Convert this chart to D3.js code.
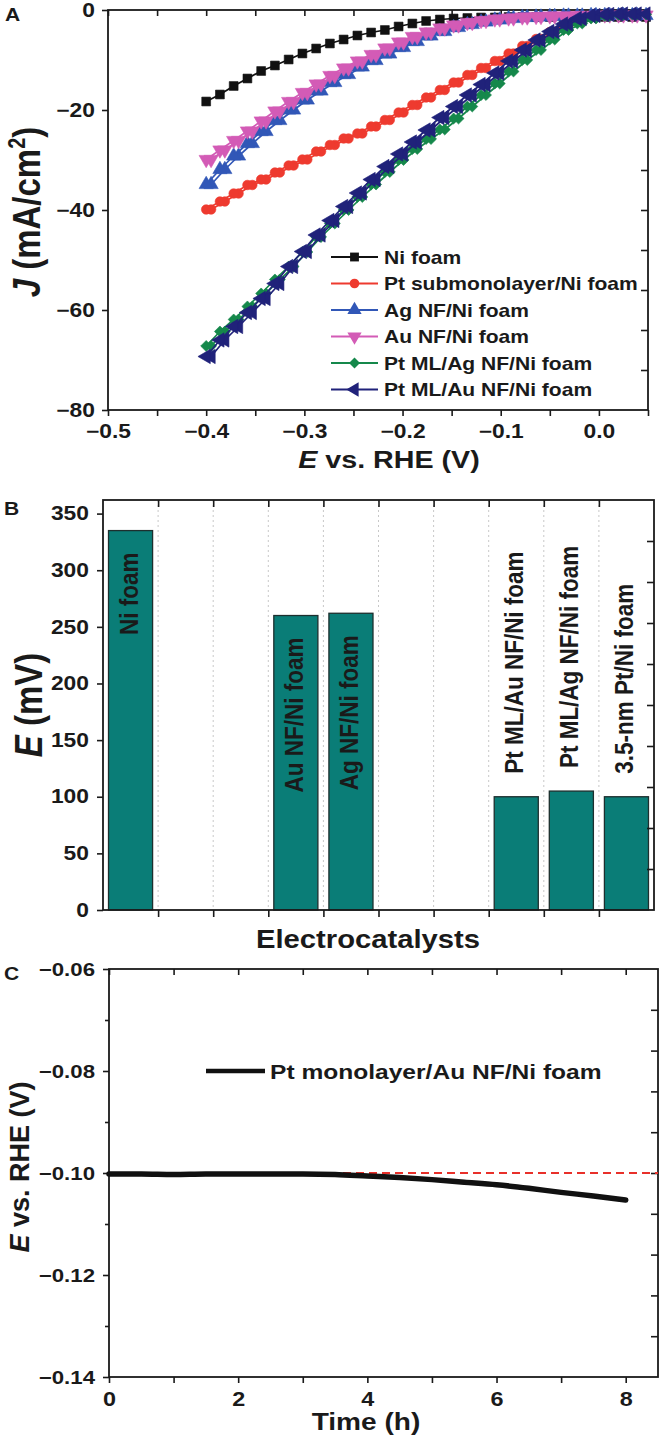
<!DOCTYPE html>
<html><head><meta charset="utf-8">
<script src="https://cdn.jsdelivr.net/npm/d3@7"></script>
<style>
body{margin:0;background:#fff;}
svg text{font-family:"Liberation Sans",Arial,sans-serif;font-weight:bold;fill:#1a1a1a;}
</style></head><body>
<svg id="c" width="660" height="1442"></svg>
<script>
// ---------------- DATA ----------------
// Panel A: polarization curves (first scan potentials; second scan markers sit slightly to the right)
const potentialA = [-0.400,-0.386,-0.372,-0.358,-0.344,-0.330,-0.316,-0.302,-0.288,-0.274,-0.260,-0.246,-0.232,-0.218,-0.204,-0.190,-0.176,-0.162,-0.148,-0.134,-0.120,-0.106,-0.092,-0.078,-0.064,-0.050,-0.036,-0.022,-0.008,0.006,0.020,0.034,0.048];
const potentialA2 = [-0.395,-0.381,-0.367,-0.353,-0.339,-0.325,-0.311,-0.297,-0.283,-0.269,-0.255,-0.241,-0.227,-0.213,-0.199,-0.185,-0.171,-0.157,-0.143,-0.129,-0.115,-0.101,-0.087,-0.073,-0.059,-0.045,-0.031,-0.017,-0.003,0.011,0.025,0.039];
const seriesNamesA = ["Ni foam","Pt submonolayer/Ni foam","Ag NF/Ni foam","Au NF/Ni foam","Pt ML/Ag NF/Ni foam","Pt ML/Au NF/Ni foam"];
const niFoam = [-18.3,-16.9,-15.2,-13.7,-12.2,-11.1,-9.9,-8.7,-7.7,-6.7,-5.9,-5.1,-4.5,-4.0,-3.3,-2.7,-2.2,-1.9,-1.7,-1.6,-1.5,-1.5,-1.4,-1.4,-1.4,-1.4,-1.4,-1.4,-1.4,-1.4,-1.4,-1.4,-1.4];
const ptSubNi = [-39.9,-38.3,-36.7,-35.0,-33.9,-32.5,-31.1,-29.9,-28.3,-27.0,-25.7,-24.7,-23.3,-22.0,-20.5,-19.0,-17.5,-16.0,-14.5,-13.0,-11.6,-10.2,-8.7,-7.2,-5.8,-4.4,-3.0,-1.9,-1.2,-1.0,-1.0,-1.0,-1.0];
const agNfNi = [-34.9,-31.9,-29.2,-26.7,-24.3,-22.1,-20.0,-18.0,-16.2,-14.5,-12.9,-11.4,-10.1,-8.8,-7.5,-6.3,-5.2,-4.3,-3.5,-2.9,-2.4,-2.0,-1.7,-1.5,-1.4,-1.3,-1.2,-1.2,-1.1,-1.1,-1.1,-1.1,-1.1];
const auNfNi = [-29.9,-28.0,-26.1,-24.2,-22.2,-20.2,-18.3,-16.5,-14.8,-13.1,-11.6,-10.2,-8.9,-7.6,-6.4,-5.3,-4.4,-3.6,-3.0,-2.5,-2.1,-1.8,-1.6,-1.4,-1.3,-1.2,-1.2,-1.1,-1.1,-1.0,-1.0,-1.0,-1.0];
const ptMlAgNi = [-67.2,-64.3,-61.9,-59.3,-56.7,-53.9,-51.3,-48.4,-45.4,-42.7,-40.0,-37.4,-34.9,-32.4,-30.0,-27.8,-25.8,-23.9,-21.7,-19.3,-17.0,-14.7,-12.3,-10.0,-8.0,-5.9,-4.0,-2.7,-1.7,-1.2,-1.0,-0.9,-0.9];
const ptMlAuNi = [-69.3,-66.0,-63.3,-60.5,-57.7,-54.7,-51.3,-48.3,-45.0,-42.1,-39.3,-36.6,-33.9,-31.3,-28.8,-26.4,-24.0,-21.5,-19.3,-17.0,-14.9,-12.6,-10.2,-8.0,-6.0,-4.3,-2.8,-1.7,-1.1,-0.9,-0.8,-0.8,-0.8];
const secondScanA = [false,true,true,true,true,true];
const colorsA = ["#111111","#ee3a2f","#3157b7","#d35bb6","#15884b","#20227a"];
const xTicksA = [-0.5,-0.4,-0.3,-0.2,-0.1,0.0];
const xMinorA = [-0.45,-0.35,-0.25,-0.15,-0.05,0.05];
const yTicksA = [0,-20,-40,-60,-80];

// Panel B: overpotential bars
const barCategories = ["Ni foam","Au NF/Ni foam","Ag NF/Ni foam","Pt ML/Au NF/Ni foam","Pt ML/Ag NF/Ni foam","3.5-nm Pt/Ni foam"];
const barSlots = [1,4,5,8,9,10];
const barValues = [335,260,262,100,105,100];
const yTicksB = [0,50,100,150,200,250,300,350];
const slotEdgesB = [1.5,2.5,3.5,4.5,5.5,6.5,7.5,8.5,9.5];

// Panel C: stability
const timeC = [0,0.5,1,1.5,2,2.5,3,3.5,4,4.5,5,5.5,6,6.5,7,7.5,8];
const potentialC = [-0.1002,-0.1002,-0.1003,-0.1002,-0.1002,-0.1002,-0.1002,-0.1003,-0.1006,-0.1009,-0.1013,-0.1018,-0.1023,-0.1030,-0.1038,-0.1045,-0.1053];
const refLevelC = -0.10;
const xTicksC = [0,2,4,6,8];
const xMinorC = [1,3,5,7];
const yTicksC = [-0.06,-0.08,-0.10,-0.12,-0.14];
const yMinorC = [-0.07,-0.09,-0.11,-0.13];
const rightDivs = [1,2,3,4,5,6,7,8,9];

// ---------------- DRAW ----------------
const svg = d3.select("#c");
const SX = 1.17; // horizontal glyph stretch seen in the figure

function styleAxis(fs){
  return g => {
    g.select(".domain").remove();
    g.selectAll("line").attr("stroke","#1a1a1a").attr("stroke-width",1.6);
    g.selectAll(".tick text").each(function(){
      const t = d3.select(this);
      const x = +t.attr("x")||0, y = +t.attr("y")||0;
      t.attr("x",null).attr("y",null).attr("font-size",fs).attr("fill","#1a1a1a")
       .attr("transform",`translate(${x},${y}) scale(${SX},1)`);
    });
  };
}
function label(x,y,size,rot,anchor,sx){
  return svg.append("text").attr("font-size",size).attr("text-anchor",anchor||"start")
    .attr("transform",`translate(${x},${y}) scale(${sx||SX},1) rotate(${rot||0})`);
}
function framePanel(L,R,T,B){
  svg.append("rect").attr("x",L).attr("y",T).attr("width",R-L).attr("height",B-T)
    .attr("fill","none").attr("stroke","#1a1a1a").attr("stroke-width",1.8);
  const r = d3.scaleLinear().domain([0,10]).range([B,T]);
  svg.append("g").attr("transform",`translate(${R},0)`)
    .call(d3.axisLeft(r).tickValues(rightDivs).tickSize(7).tickFormat(""))
    .call(styleAxis(0));
}

// ===== Panel A =====
{
  const L=108,R=648,T=10,B=410;
  const x = d3.scaleLinear().domain([-0.5,0.05]).range([L,R]);
  const y = d3.scaleLinear().domain([-80,0]).range([B,T]);
  svg.append("g").attr("transform",`translate(0,${B})`)
    .call(d3.axisBottom(x).tickValues(xTicksA).tickSize(6).tickPadding(8).tickFormat(d3.format(".1f"))).call(styleAxis(19.5));
  svg.append("g").attr("transform",`translate(0,${B})`)
    .call(d3.axisBottom(x).tickValues(xMinorA).tickSize(6).tickFormat("")).call(styleAxis(0));
  svg.append("g").attr("transform",`translate(0,${T})`)
    .call(d3.axisBottom(x).tickValues(xTicksA.concat(xMinorA)).tickSize(6).tickFormat("")).call(styleAxis(0));
  svg.append("g").attr("transform",`translate(${L},0)`)
    .call(d3.axisLeft(y).tickValues(yTicksA).tickSize(6).tickPadding(7).tickFormat(d3.format("d"))).call(styleAxis(19.5));
  framePanel(L,R,T,B);

  const all = [niFoam,ptSubNi,agNfNi,auNfNi,ptMlAgNi,ptMlAuNi];
  const symbols = [
    {t:d3.symbolSquare,s:78,r:0},
    {t:d3.symbolCircle,s:72,r:0},
    {t:d3.symbolTriangle,s:88,r:0},
    {t:d3.symbolTriangle,s:88,r:180},
    {t:d3.symbolDiamond2,s:78,r:0},
    {t:d3.symbolTriangle,s:88,r:-90}
  ];
  const line = d3.line().x(d=>x(d[0])).y(d=>y(d[1]));
  const drawScan = (pts,k) => {
    const g = svg.append("g");
    g.append("path").datum(pts).attr("d",line).attr("fill","none")
      .attr("stroke",colorsA[k]).attr("stroke-width",1.7);
    g.selectAll("path.m").data(pts).enter().append("path").attr("class","m")
      .attr("d",d3.symbol(symbols[k].t,symbols[k].s))
      .attr("transform",d=>`translate(${x(d[0])},${y(d[1])}) rotate(${symbols[k].r})`)
      .attr("fill",colorsA[k]).attr("stroke",colorsA[k]).attr("stroke-width",0.6);
  };
  all.forEach((vals,k)=>{
    if (secondScanA[k]) drawScan(potentialA2.map((e,i)=>[e,vals[i]]),k);
    drawScan(potentialA.map((e,i)=>[e,vals[i]]),k);
  });
  // legend
  seriesNamesA.forEach((n,k)=>{
    const yy = 257 + k*26.5;
    svg.append("line").attr("x1",331).attr("x2",378).attr("y1",yy).attr("y2",yy)
      .attr("stroke",colorsA[k]).attr("stroke-width",1.8);
    svg.append("path").attr("d",d3.symbol(symbols[k].t,symbols[k].s))
      .attr("transform",`translate(354.5,${yy}) rotate(${symbols[k].r})`).attr("fill",colorsA[k]);
    label(384,yy+6.5,18).text(n);
  });
  label(5,21,18).text("A");
  const xt = label(389,468,24.5,0,"middle");
  xt.append("tspan").attr("font-style","italic").text("E");
  xt.append("tspan").text(" vs. RHE (V)");
  const yt = label(40,212,33,-90,"middle");
  yt.append("tspan").attr("font-style","italic").text("J");
  yt.append("tspan").text(" (mA/cm");
  yt.append("tspan").attr("font-size",20).attr("dy",-13).text("2");
  yt.append("tspan").attr("dy",13).text(")");
}

// ===== Panel B =====
{
  const L=103,R=654,T=500,B=910;
  const x = d3.scaleLinear().domain([0.5,10.5]).range([L,R]);
  const y = d3.scaleLinear().domain([0,362]).range([B,T]);
  const slotW = x(2)-x(1);
  svg.append("g").selectAll("line").data(slotEdgesB).enter().append("line")
    .attr("x1",d=>x(d)).attr("x2",d=>x(d)).attr("y1",T).attr("y2",B)
    .attr("stroke","#c8c8c8").attr("stroke-width",1).attr("stroke-dasharray","2,3");
  svg.append("g").attr("transform",`translate(0,${B})`)
    .call(d3.axisBottom(x).tickValues(slotEdgesB).tickSize(7).tickFormat("")).call(styleAxis(0));
  svg.append("g").attr("transform",`translate(0,${T})`)
    .call(d3.axisBottom(x).tickValues(slotEdgesB).tickSize(7).tickFormat("")).call(styleAxis(0));
  svg.append("g").attr("transform",`translate(${L},0)`)
    .call(d3.axisLeft(y).tickValues(yTicksB).tickSize(6).tickPadding(8).tickFormat(d3.format("d"))).call(styleAxis(19.5));
  const bw = slotW*0.8;
  svg.append("g").selectAll("rect").data(barValues).enter().append("rect")
    .attr("x",(d,i)=>x(barSlots[i])-bw/2).attr("width",bw)
    .attr("y",d=>y(d)).attr("height",d=>B-y(d))
    .attr("fill","#0a7d77").attr("stroke","#1d2f2e").attr("stroke-width",1.3);
  framePanel(L,R,T,B);
  barValues.forEach((v,i)=>{
    const cx = x(barSlots[i]) + 7;
    const top = y(v);
    const inside = v > 200;
    label(cx, inside ? top+22 : top-23, 22.5, -90, inside ? "end" : "start").text(barCategories[i]);
  });
  label(4,515,18).text("B");
  label(368,948,25,0,"middle").text("Electrocatalysts");
  const yt = label(42,705,33,-90,"middle");
  yt.append("tspan").attr("font-style","italic").text("E");
  yt.append("tspan").text(" (mV)");
}

// ===== Panel C =====
{
  const L=109,R=658,T=969,B=1377;
  const x = d3.scaleLinear().domain([0,8.5]).range([L,R]);
  const y = d3.scaleLinear().domain([-0.14,-0.06]).range([B,T]);
  svg.append("g").attr("transform",`translate(0,${B})`)
    .call(d3.axisBottom(x).tickValues(xTicksC).tickSize(6).tickPadding(9).tickFormat(d3.format("d"))).call(styleAxis(20));
  svg.append("g").attr("transform",`translate(0,${B})`)
    .call(d3.axisBottom(x).tickValues(xMinorC).tickSize(6).tickFormat("")).call(styleAxis(0));
  svg.append("g").attr("transform",`translate(0,${T})`)
    .call(d3.axisBottom(x).tickValues(xTicksC.concat(xMinorC)).tickSize(6).tickFormat("")).call(styleAxis(0));
  svg.append("g").attr("transform",`translate(${L},0)`)
    .call(d3.axisLeft(y).tickValues(yTicksC).tickSize(6).tickPadding(8).tickFormat(d3.format(".2f"))).call(styleAxis(19));
  svg.append("g").attr("transform",`translate(${L},0)`)
    .call(d3.axisLeft(y).tickValues(yMinorC).tickSize(4).tickFormat("")).call(styleAxis(0));
  framePanel(L,R,T,B);
  svg.append("line").attr("x1",L).attr("x2",R).attr("y1",y(refLevelC)).attr("y2",y(refLevelC))
    .attr("stroke","#e8302a").attr("stroke-width",2).attr("stroke-dasharray","8,5");
  const line = d3.line().curve(d3.curveMonotoneX).x((d,i)=>x(timeC[i])).y(d=>y(d));
  svg.append("path").datum(potentialC).attr("d",line).attr("fill","none")
    .attr("stroke","#111").attr("stroke-width",5.5).attr("stroke-linecap","round");
  svg.append("line").attr("x1",206).attr("x2",265).attr("y1",1071).attr("y2",1071)
    .attr("stroke","#111").attr("stroke-width",4.5);
  label(270,1078.5,21).text("Pt monolayer/Au NF/Ni foam");
  label(4,980,18).text("C");
  label(366,1430,24,0,"middle").text("Time (h)");
  const yt = label(29,1167,27,-90,"middle",1);
  yt.append("tspan").attr("font-style","italic").text("E");
  yt.append("tspan").text(" vs. RHE (V)");
}
</script></body></html>
